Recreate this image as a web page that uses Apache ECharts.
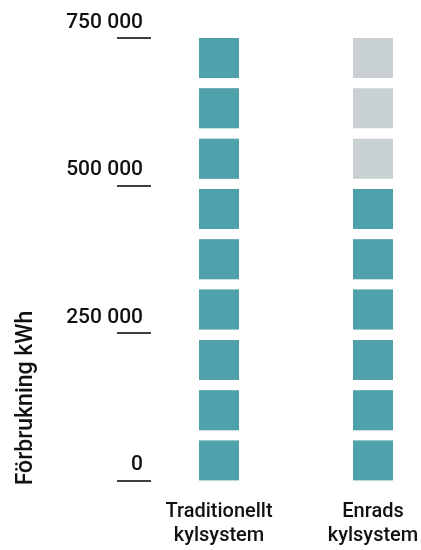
<!DOCTYPE html>
<html>
<head>
<meta charset="utf-8">
<script src="https://cdn.jsdelivr.net/npm/echarts@6/dist/echarts.min.js"></script>
<style>
  html, body { margin: 0; padding: 0; background: #fff; }
  #chart { width: 421px; height: 550px; }
</style>
</head>
<body>
<div id="chart"></div>
<script>
// ---- data ----
const categories = ['Traditionellt\nkylsystem', 'Enrads\nkylsystem'];
const consumption = [750000, 500000];      // teal squares (kWh)
const scaleCapacity = [750000, 750000];    // grey background squares (kWh)
const yTickValues = [0, 250000, 500000, 750000];
const axisName = 'Förbrukning kWh';

const FONT = "Roboto, 'Liberation Sans', sans-serif";
const TEAL = '#4fa1ab';
const GREY = '#c9d1d3';

function fmt(v) { return String(v).replace(/\B(?=(\d{3})+(?!\d))/g, ' '); }

const chart = echarts.init(document.getElementById('chart'), null, { renderer: 'canvas' });
const yMax = yTickValues[yTickValues.length - 1];

chart.setOption({
  animation: false,
  backgroundColor: '#fff',
  grid: { left: 219, right: 48, top: 38, bottom: 69.5, containLabel: false, outerBoundsMode: 'none' },
  xAxis: {
    type: 'category',
    data: categories,
    boundaryGap: false,
    axisLine: { show: false },
    axisTick: { show: false },
    axisLabel: {
      interval: 0,
      margin: 19,
      fontFamily: FONT,
      fontWeight: 500,
      fontSize: 20,
      lineHeight: 24,
      color: '#111',
      align: 'center'
    }
  },
  yAxis: {
    type: 'value',
    min: yTickValues[0],
    max: yMax,
    interval: yTickValues[1] - yTickValues[0],
    offset: 68,
    splitLine: { show: false },
    axisLine: { show: false },
    axisTick: { show: true, length: 34, lineStyle: { color: '#000', width: 1.5 } },
    axisLabel: {
      margin: 8,
      fontFamily: FONT,
      fontWeight: 500,
      fontSize: 21,
      lineHeight: 21,
      color: '#111',
      verticalAlign: 'bottom',
      padding: [0, 0, 5, 0],
      formatter: fmt
    }
  },
  graphic: [{
    type: 'text',
    x: 26,
    y: 398,
    rotation: Math.PI / 2,
    style: {
      text: axisName,
      font: "500 23px " + FONT,
      fill: '#111',
      textAlign: 'center',
      textVerticalAlign: 'middle'
    }
  }],
  series: [
    {
      type: 'pictorialBar',
      data: scaleCapacity,
      barWidth: 40,
      symbol: 'rect',
      symbolSize: [40, 40],
      symbolRepeat: true,
      symbolMargin: 6,
      symbolBoundingData: yMax,
      itemStyle: { color: GREY },
      z: 1,
      silent: true
    },
    {
      type: 'pictorialBar',
      data: consumption,
      barWidth: 40,
      barGap: '-100%',
      symbol: 'rect',
      symbolSize: [40, 40],
      symbolRepeat: true,
      symbolMargin: 6,
      symbolClip: true,
      symbolBoundingData: yMax,
      itemStyle: { color: TEAL },
      z: 2,
      silent: true
    }
  ]
});
</script>
</body>
</html>
